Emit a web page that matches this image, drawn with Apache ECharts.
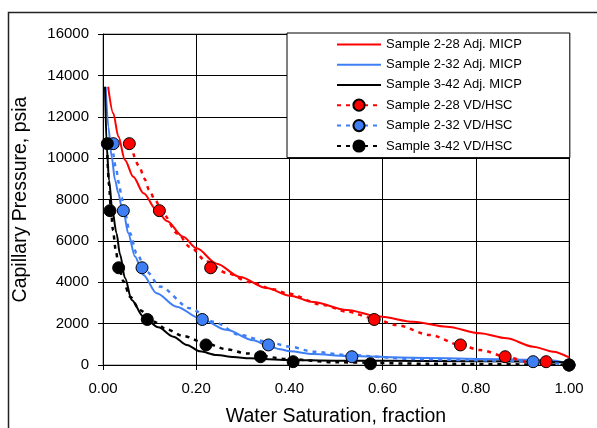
<!DOCTYPE html>
<html>
<head>
<meta charset="utf-8">
<script src="https://cdn.jsdelivr.net/npm/echarts@6/dist/echarts.min.js"></script>
<style>
html,body{margin:0;padding:0;background:#fff;}
#chart{width:597px;height:428px;}
</style>
</head>
<body>
<div id="chart"></div>
<script>
// ---- data ----
const xTicks = [0, 0.2, 0.4, 0.6, 0.8, 1.0];
const yTicks = [0, 2000, 4000, 6000, 8000, 10000, 12000, 14000, 16000];

// Adj. MICP curves
const micp228X = [0.011,0.022,0.033,0.047,0.065,0.087,0.115,0.137,0.172,0.201,0.244,0.294,0.351,0.401,0.451,0.523,0.594,0.666,0.738,0.809,0.866,0.923,0.966,1.0];
const micp228Y = [13450,12170,11040,9910,9100,8300,7490,6960,6200,5640,4900,4250,3720,3350,3040,2660,2340,2090,1850,1530,1290,885,645,370];
const micp232X = [0.0057,0.0114,0.0186,0.0258,0.033,0.040,0.0436,0.054,0.0687,0.0865,0.115,0.158,0.208,0.265,0.3225,0.355,0.38,0.401,0.451,0.523,0.666,0.809,0.952,1.0];
const micp232Y = [13450,11520,10070,8940,8300,7650,7490,6370,5240,4350,3470,2820,2250,1700,1200,920,760,660,530,440,353,290,242,80];
const micp342X = [0.0043,0.008,0.0129,0.02,0.029,0.0365,0.0472,0.0615,0.0865,0.1187,0.151,0.18,0.208,0.244,0.28,0.315,0.394,0.5,0.7,0.9,1.0];
const micp342Y = [13450,10550,8940,7490,6370,5350,4200,3140,2340,1820,1370,967,660,483,390,322,242,210,190,170,120];

// VD/HSC fitted (dashed) curves
const vd228X = [0.065,0.078,0.0887,0.099,0.1116,0.129,0.16,0.187,0.2225,0.265,0.3155,0.3655,0.394,0.473,0.523,0.58,0.63,0.702,0.766,0.809,0.866,0.909,0.95];
const vd228Y = [10230,9590,9020,8460,7980,7300,6350,5700,5000,4450,4000,3660,3470,2900,2580,2260,1930,1450,970,725,400,160,0];
const vd232X = [0.022,0.028,0.034,0.040,0.047,0.058,0.072,0.094,0.122,0.187,0.237,0.294,0.351,0.401,0.451,0.523,0.666,0.773,0.88,0.952,1.0];
const vd232Y = [10230,9500,8800,8100,7350,6370,5400,4510,3790,2740,2090,1450,1130,886,644,483,290,242,193,113,0];
const vd342X = [0.0093,0.0129,0.017,0.0215,0.027,0.0329,0.0436,0.058,0.0794,0.108,0.137,0.172,0.2225,0.265,0.308,0.394,0.5,0.7,0.9,1.0];
const vd342Y = [10150,8700,7500,6500,5600,4900,4050,3300,2650,2100,1720,1400,1030,760,560,290,130,60,30,0];

// VD/HSC measured points
const pts228X = [0.0565,0.121,0.231,0.582,0.767,0.863,0.951,1.0];
const pts228Y = [10700,7460,4700,2200,970,400,160,0];
const pts232X = [0.022,0.0436,0.0837,0.213,0.355,0.534,0.923,1.0];
const pts232Y = [10700,7460,4700,2200,970,400,160,0];
const pts342X = [0.0093,0.015,0.0336,0.095,0.221,0.338,0.408,0.574,1.0];
const pts342Y = [10700,7460,4700,2200,970,400,160,60,0];

const names = ['Sample 2-28 Adj. MICP','Sample 2-32 Adj. MICP','Sample 3-42 Adj. MICP',
               'Sample 2-28 VD/HSC','Sample 2-32 VD/HSC','Sample 3-42 VD/HSC'];

// ---- styles ----
const RED = '#ff0000', BLUE = '#3f7ff5', BLACK = '#000000';
const FONT = '"Liberation Sans", Arial, sans-serif';
const LINE_ICON = 'path://M0,0L44,0L44,2L0,2Z';
const zip = (xs, ys) => xs.map((x, i) => [x, ys[i]]);

function solid(name, xs, ys, color) {
  return { name, type: 'line', data: zip(xs, ys), smooth: 0.3, smoothMonotone: 'x',
    symbol: 'none', lineStyle: { color, width: 2 }, itemStyle: { color }, z: 2 };
}
function dashed(name, xs, ys, color) {
  return { name, type: 'line', data: zip(xs, ys), smooth: 0.3, smoothMonotone: 'x',
    symbol: 'circle', symbolSize: 11, showSymbol: false,
    lineStyle: { color, width: 2.5, type: [4, 5] },
    itemStyle: { color, borderColor: '#000', borderWidth: 1 }, z: 3 };
}
function pts(name, xs, ys, color) {
  return { name, type: 'scatter', data: zip(xs, ys), symbol: 'circle', symbolSize: 12,
    itemStyle: { color, borderColor: '#000', borderWidth: 1, opacity: 1 }, z: 4 };
}

const chart = echarts.init(document.getElementById('chart'), null, { renderer: 'canvas' });
chart.setOption({
  animation: false,
  backgroundColor: '#fff',
  textStyle: { fontFamily: FONT },
  graphic: [{
    type: 'rect', left: 6, top: 10, shape: { width: 700, height: 500 },
    style: { fill: 'none', stroke: '#222', lineWidth: 1.5 }, z: -10, silent: true
  }],
  grid: { left: 103, top: 34, width: 466, height: 331, containLabel: false, outerBoundsMode: 'none',
          show: true, borderColor: '#808080', borderWidth: 1 },
  legend: {
    data: [
      { name: names[0], icon: LINE_ICON },
      { name: names[1], icon: LINE_ICON },
      { name: names[2], icon: LINE_ICON },
      { name: names[3] }, { name: names[4] }, { name: names[5] }
    ],
    orient: 'vertical', left: 287, top: 33,
    padding: [5, 48, 5, 49], itemWidth: 44, itemHeight: 14, itemGap: 7.2,
    backgroundColor: '#fff', borderColor: '#000', borderWidth: 1,
    textStyle: { fontSize: 13, color: '#000', fontFamily: FONT }, z: 10
  },
  xAxis: {
    type: 'value', min: 0, max: 1, interval: 0.2,
    name: 'Water Saturation, fraction', nameLocation: 'middle', nameGap: 42,
    nameTextStyle: { fontSize: 19.5, color: '#000', fontFamily: FONT },
    axisLine: { lineStyle: { color: '#000', width: 1 } },
    axisTick: { show: true, length: 5, lineStyle: { color: '#000' } },
    axisLabel: { fontSize: 15, color: '#000', margin: 16, formatter: v => v.toFixed(2) },
    splitLine: { show: true, lineStyle: { color: '#000', width: 1 } }
  },
  yAxis: {
    type: 'value', min: 0, max: 16000, interval: 2000,
    name: 'Capillary Pressure, psia', nameLocation: 'middle', nameGap: 72,
    nameTextStyle: { fontSize: 19.5, color: '#000', fontFamily: FONT },
    axisLine: { show: true, lineStyle: { color: '#000', width: 1 } },
    axisTick: { show: true, length: 5, lineStyle: { color: '#000' } },
    axisLabel: { fontSize: 15, color: '#000', margin: 14, formatter: v => String(v) },
    splitLine: { show: true, lineStyle: { color: '#000', width: 1 } }
  },
  series: [
    solid(names[0], micp228X, micp228Y, RED),
    solid(names[1], micp232X, micp232Y, BLUE),
    solid(names[2], micp342X, micp342Y, BLACK),
    dashed(names[3], vd228X, vd228Y, RED),
    dashed(names[4], vd232X, vd232Y, BLUE),
    dashed(names[5], vd342X, vd342Y, BLACK),
    pts('2-28 VD/HSC points', pts228X, pts228Y, RED),
    pts('2-32 VD/HSC points', pts232X, pts232Y, BLUE),
    pts('3-42 VD/HSC points', pts342X, pts342Y, BLACK)
  ]
});
</script>
</body>
</html>
